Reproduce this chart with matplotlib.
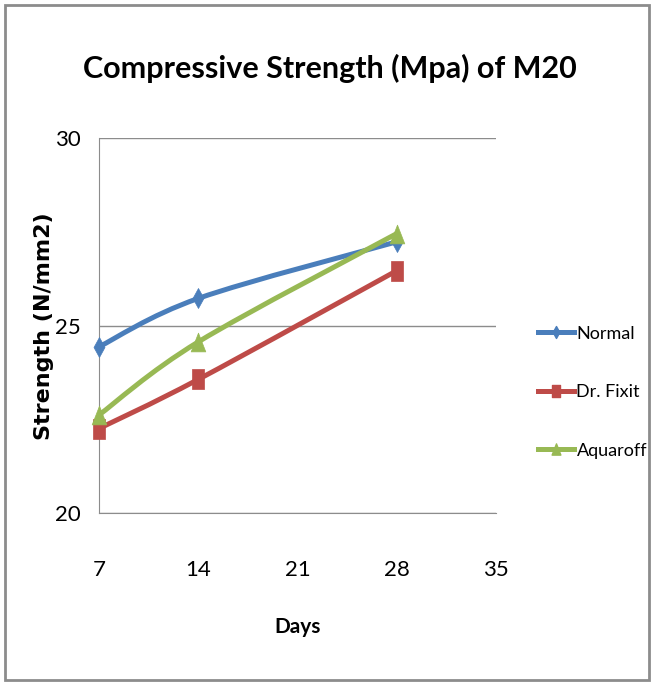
import matplotlib
matplotlib.use('Agg')
import matplotlib.pyplot as plt
import numpy as np
from matplotlib.path import Path
from matplotlib.patches import PathPatch, Rectangle
from matplotlib.lines import Line2D

days = [7, 14, 28]
normal = [24.44, 25.73, 27.24]
dr_fixit = [22.26, 23.57, 26.47]
aquaroff = [22.62, 24.57, 27.46]

# excel markers look tall and narrow in the picture
tall_diamond = Path([(0, 1), (0.55, 0), (0, -1), (-0.55, 0), (0, 1)],
                    [1, 2, 2, 2, 79])
tall_square = Path([(-0.6, -1), (0.6, -1), (0.6, 1), (-0.6, 1), (-0.6, -1)],
                   [1, 2, 2, 2, 79])
tall_tri = Path([(0, 1), (0.78, -1), (-0.78, -1), (0, 1)], [1, 2, 2, 79])

series = [('Normal', normal, '#4a7ebb', tall_diamond, 14.4),
          ('Dr. Fixit', dr_fixit, '#be4b48', tall_square, 14.4),
          ('Aquaroff', aquaroff, '#98b954', tall_tri, 13.5)]

narrow = ['Lato', 'DejaVu Sans']


def excel_smooth(xs, ys):
    # bezier segments like Excel's "smoothed line"
    p = np.column_stack([xs, ys]).astype(float)
    n = len(p)
    verts = [tuple(p[0])]
    codes = [Path.MOVETO]
    for i in range(n - 1):
        p0 = p[i - 1] if i > 0 else p[i]
        p3 = p[i + 2] if i + 2 < n else p[i + 1]
        c1 = p[i] + (p[i + 1] - p0) / 6.0
        c2 = p[i + 1] - (p3 - p[i]) / 6.0
        verts += [tuple(c1), tuple(c2), tuple(p[i + 1])]
        codes += [Path.CURVE4] * 3
    return Path(verts, codes)


fig = plt.figure(figsize=(6.51, 6.82), dpi=100)
ax = fig.add_axes([0.152, 0.2474, 0.61, 0.5498])

for name, vals, col, mk, ms in series:
    ax.add_patch(PathPatch(excel_smooth(days, vals), fill=False,
                           edgecolor=col, lw=3.6, capstyle='round',
                           joinstyle='round', zorder=3))
    ax.plot(days, vals, ls='none', marker=mk, ms=ms, color=col,
            mec=col, mew=0.5, zorder=4, clip_on=False)

ax.set_xlim(7, 35)
ax.set_ylim(20, 30)
ax.set_xticks([7, 14, 21, 28, 35])
ax.set_yticks([20, 25, 30])
ax.yaxis.grid(True, color='#8c8c8c', lw=1.0)
ax.set_axisbelow(True)
for s in ['top', 'right']:
    ax.spines[s].set_visible(False)
ax.spines['left'].set_color('#8c8c8c')
ax.spines['bottom'].set_color('#8c8c8c')
ax.tick_params(length=0)
ax.tick_params(axis='x', pad=34)
ax.tick_params(axis='y', pad=13)
for lab in ax.get_xticklabels() + ax.get_yticklabels():
    lab.set_family(narrow)
    lab.set_fontsize(16)

ax.set_xlabel('Days', family=narrow, fontsize=15, fontweight='bold',
              labelpad=26)
ax.set_ylabel('Strength (N/mm2)', family='DejaVu Sans', fontsize=16,
              fontweight='bold', labelpad=1)

fig.text(0.507, 0.9, 'Compressive Strength (Mpa) of M20', family=narrow,
         fontsize=22, fontweight='bold', ha='center', va='center')

handles = [Line2D([0], [0], color=c, lw=3.6, marker=m, ms=ms * 0.6)
           for _, _, c, m, ms in series]
fig.legend(handles, [s[0] for s in series], loc='center left',
           bbox_to_anchor=(0.812, 0.425), frameon=False, borderpad=0,
           prop={'family': narrow, 'size': 13}, handlelength=2.0,
           handletextpad=0.15, labelspacing=2.35)

fig.patches.append(Rectangle((0.007, 0.003), 0.99, 0.99, fill=False,
                             edgecolor='#8c8c8c', lw=2,
                             transform=fig.transFigure, figure=fig))

fig.savefig('out.png', dpi=100)
